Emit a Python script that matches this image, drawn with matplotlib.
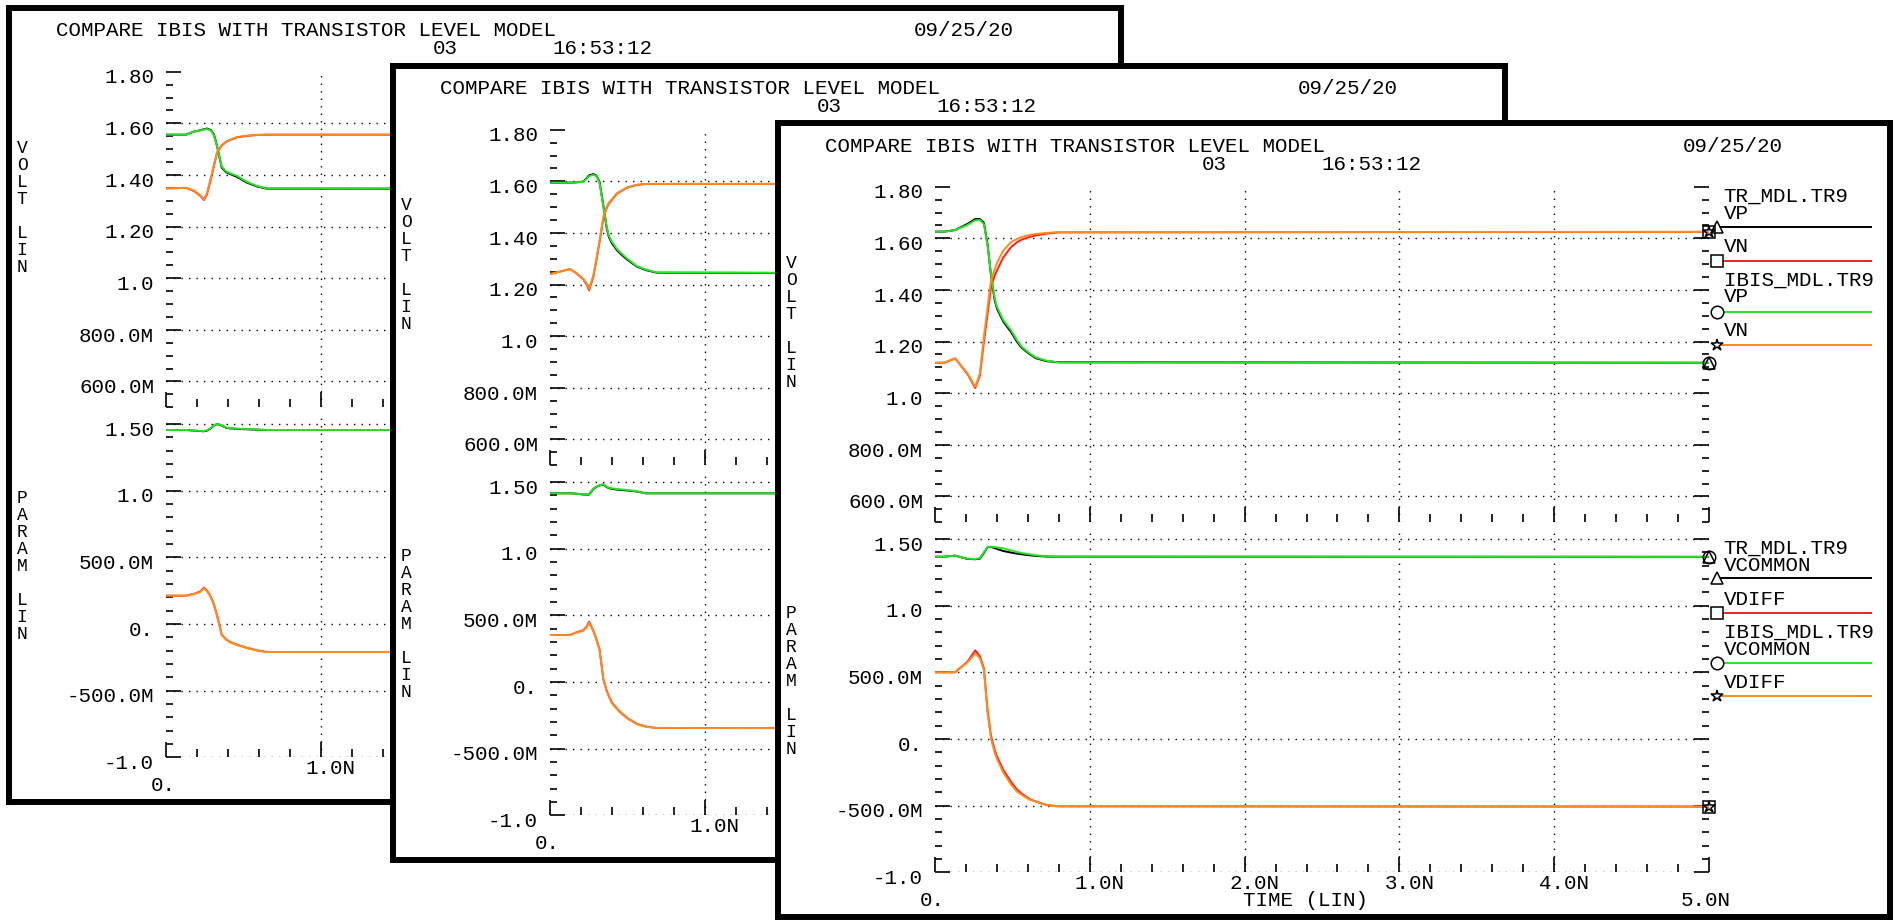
import matplotlib.pyplot as plt
from matplotlib.ticker import MultipleLocator
from matplotlib.transforms import ScaledTranslation

plt.rcParams['font.family'] = ['Liberation Mono', 'DejaVu Sans Mono']

W, H = 1894, 921
FS = 15

# ---- values read off the three HSPICE windows (time in ns, volts) ----
# window 1 (back)
t_1 = [0, 0.13, 0.18, 0.22, 0.245, 0.265, 0.29, 0.31, 0.33, 0.36, 0.39, 0.42, 0.46, 0.52, 0.59, 0.65, 5.0]
vp_tr_1 = [1.556, 1.556, 1.568, 1.573, 1.577, 1.580, 1.574, 1.556, 1.512, 1.428, 1.410, 1.402, 1.392, 1.371, 1.355, 1.347, 1.346]
vn_tr_1 = [1.348, 1.350, 1.338, 1.320, 1.303, 1.325, 1.385, 1.436, 1.487, 1.514, 1.529, 1.537, 1.546, 1.551, 1.555, 1.556, 1.556]
vp_ibis_1 = [1.556, 1.556, 1.568, 1.572, 1.576, 1.578, 1.572, 1.553, 1.510, 1.432, 1.413, 1.405, 1.396, 1.374, 1.357, 1.348, 1.346]
vn_ibis_1 = [1.348, 1.350, 1.340, 1.322, 1.306, 1.330, 1.390, 1.440, 1.490, 1.516, 1.530, 1.538, 1.547, 1.552, 1.555, 1.556, 1.556]
vcom_tr_1 = [1.455, 1.455, 1.450, 1.447, 1.445, 1.450, 1.468, 1.489, 1.499, 1.488, 1.470, 1.466, 1.463, 1.460, 1.457, 1.455, 1.455]
vdiff_tr_1 = [0.212, 0.212, 0.226, 0.243, 0.272, 0.250, 0.205, 0.145, 0.065, -0.080, -0.118, -0.138, -0.156, -0.178, -0.199, -0.210, -0.210]
vcom_ibis_1 = [1.455, 1.455, 1.450, 1.448, 1.447, 1.452, 1.470, 1.490, 1.500, 1.490, 1.472, 1.468, 1.465, 1.462, 1.458, 1.455, 1.455]
vdiff_ibis_1 = [0.212, 0.212, 0.225, 0.240, 0.267, 0.245, 0.200, 0.140, 0.060, -0.083, -0.120, -0.140, -0.158, -0.180, -0.200, -0.210, -0.210]

# window 2 (middle)
t_2 = [0, 0.13, 0.17, 0.215, 0.237, 0.252, 0.28, 0.30, 0.32, 0.345, 0.366, 0.38, 0.40, 0.43, 0.45, 0.50, 0.56, 0.62, 0.69, 5.0]
vp_tr_2 = [1.595, 1.595, 1.596, 1.599, 1.612, 1.623, 1.628, 1.622, 1.598, 1.505, 1.420, 1.385, 1.360, 1.335, 1.322, 1.296, 1.270, 1.256, 1.246, 1.241]
vn_tr_2 = [1.241, 1.260, 1.244, 1.220, 1.200, 1.178, 1.230, 1.295, 1.365, 1.458, 1.497, 1.514, 1.528, 1.551, 1.559, 1.576, 1.586, 1.590, 1.590, 1.590]
vp_ibis_2 = [1.595, 1.595, 1.596, 1.598, 1.610, 1.620, 1.625, 1.620, 1.595, 1.502, 1.424, 1.390, 1.366, 1.340, 1.327, 1.300, 1.272, 1.258, 1.247, 1.241]
vn_ibis_2 = [1.241, 1.260, 1.245, 1.222, 1.205, 1.183, 1.236, 1.300, 1.370, 1.463, 1.500, 1.517, 1.530, 1.553, 1.560, 1.577, 1.586, 1.590, 1.590, 1.590]
vcom_tr_2 = [1.415, 1.415, 1.412, 1.406, 1.405, 1.405, 1.447, 1.463, 1.474, 1.481, 1.462, 1.454, 1.448, 1.443, 1.441, 1.436, 1.428, 1.415, 1.415, 1.415]
vdiff_tr_2 = [0.352, 0.352, 0.372, 0.388, 0.415, 0.452, 0.385, 0.320, 0.245, 0.020, -0.065, -0.105, -0.155, -0.196, -0.222, -0.272, -0.314, -0.335, -0.345, -0.350]
vcom_ibis_2 = [1.415, 1.415, 1.412, 1.407, 1.407, 1.407, 1.450, 1.465, 1.475, 1.482, 1.465, 1.457, 1.452, 1.447, 1.445, 1.440, 1.430, 1.415, 1.415, 1.415]
vdiff_ibis_2 = [0.352, 0.352, 0.370, 0.385, 0.410, 0.445, 0.380, 0.315, 0.240, 0.015, -0.070, -0.110, -0.160, -0.200, -0.225, -0.275, -0.316, -0.336, -0.345, -0.350]

# window 3 (front)
t_3 = [0, 0.06, 0.13, 0.21, 0.26, 0.29, 0.316, 0.34, 0.362, 0.385, 0.40, 0.44, 0.49, 0.53, 0.56, 0.61, 0.65, 0.72, 0.80, 5.0]
vp_tr_3 = [1.626, 1.626, 1.632, 1.656, 1.675, 1.675, 1.660, 1.575, 1.455, 1.362, 1.328, 1.278, 1.238, 1.199, 1.176, 1.152, 1.136, 1.124, 1.120, 1.118]
vn_tr_3 = [1.118, 1.118, 1.135, 1.074, 1.020, 1.070, 1.200, 1.310, 1.410, 1.455, 1.475, 1.525, 1.565, 1.585, 1.595, 1.605, 1.611, 1.618, 1.623, 1.625]
vp_ibis_3 = [1.626, 1.626, 1.632, 1.652, 1.670, 1.671, 1.655, 1.570, 1.460, 1.370, 1.335, 1.284, 1.245, 1.205, 1.180, 1.155, 1.139, 1.126, 1.119, 1.118]
vn_ibis_3 = [1.118, 1.118, 1.135, 1.077, 1.025, 1.077, 1.219, 1.335, 1.439, 1.480, 1.505, 1.552, 1.585, 1.598, 1.605, 1.613, 1.617, 1.621, 1.624, 1.625]
vcom_tr_3 = [1.367, 1.367, 1.375, 1.350, 1.348, 1.352, 1.395, 1.438, 1.440, 1.432, 1.425, 1.410, 1.398, 1.390, 1.385, 1.378, 1.373, 1.368, 1.367, 1.366]
vdiff_tr_3 = [0.500, 0.500, 0.500, 0.580, 0.665, 0.620, 0.530, 0.210, 0.020, -0.080, -0.130, -0.230, -0.320, -0.380, -0.410, -0.450, -0.468, -0.495, -0.505, -0.507]
vcom_ibis_3 = [1.367, 1.367, 1.375, 1.352, 1.350, 1.356, 1.400, 1.440, 1.442, 1.440, 1.437, 1.430, 1.415, 1.402, 1.395, 1.385, 1.378, 1.370, 1.367, 1.366]
vdiff_ibis_3 = [0.500, 0.500, 0.500, 0.575, 0.642, 0.605, 0.517, 0.190, 0.000, -0.100, -0.150, -0.250, -0.340, -0.395, -0.420, -0.455, -0.470, -0.497, -0.505, -0.507]

# axis ticks
volt_ticks = [0.6, 0.8, 1.0, 1.2, 1.4, 1.6, 1.8]
volt_labels = ['600.0M', '800.0M', '1.0', '1.20', '1.40', '1.60', '1.80']
param_ticks = [-1.0, -0.5, 0.0, 0.5, 1.0, 1.5]
param_labels = ['-1.0', '-500.0M', '0.', '500.0M', '1.0', '1.50']
time_ticks = [1, 2, 3, 4]
time_labels = ['1.0N', '2.0N', '3.0N', '4.0N']

GREEN = '#22e622'
ORANGE = '#ff8c1e'
RED = '#ff1c1c'
BLACK = '#000000'

# window layout (pixels, relative to the window's top-left corner)
WIN_W, WIN_H = 1118, 800
AX_L, AX_R = 160, 934
UP_T, UP_B = 66.7, 402.3
LO_T, LO_B = 412.3, 752.3
DOT = (0, (1, 4.4))

fig = plt.figure(figsize=(W / 100, H / 100), dpi=100)
label_shift = ScaledTranslation(0, -3 / 72, fig.dpi_scale_trans)


def rect(x0, y0, l, t, w, h):
    return [(x0 + l) / W, 1 - (y0 + t + h) / H, w / W, h / H]


def style(ax, ylim, ticks, labels, minor, grid_ys):
    ax.set_facecolor('none')
    for s in ax.spines.values():
        s.set_visible(False)
    ax.set_xlim(0, 5)
    ax.set_ylim(*ylim)
    ax.set_xticks([0, 1, 2, 3, 4, 5])
    ax.xaxis.set_minor_locator(MultipleLocator(0.2))
    ax.tick_params(axis='x', which='both', direction='in', labelbottom=False, width=1.2)
    ax.tick_params(axis='x', which='major', length=10.5)
    ax.tick_params(axis='x', which='minor', length=6)
    ax.set_yticks(ticks, labels)
    ax.yaxis.set_minor_locator(MultipleLocator(minor))
    ax.tick_params(axis='y', which='both', direction='in', left=True, right=True,
                   width=1.2, labelsize=FS, pad=8.6)
    ax.tick_params(axis='y', which='major', length=10.5)
    ax.tick_params(axis='y', which='minor', length=5.2)
    for lbl in ax.get_yticklabels():
        lbl.set_transform(lbl.get_transform() + label_shift)
    for y in grid_ys:
        ax.axhline(y, color='k', lw=1, ls=DOT, zorder=1)
    for x in time_ticks:
        ax.axvline(x, color='k', lw=1, ls=DOT, zorder=1)


def curves(ax, t, series):
    for vals, color, mk in series:
        ax.plot(t, vals, color=color, lw=1.4, zorder=3)
        ax.plot(t[-1], vals[-1], marker=mk, ms=9, mfc='none', mec='k', mew=1.1,
                clip_on=False, zorder=4)


def window(x0, y0, z, t, up_series, lo_series):
    fa = fig.add_axes(rect(x0, y0, 3, 3, WIN_W - 6, WIN_H - 6), zorder=z)
    fa.set_xlim(3, WIN_W - 3)
    fa.set_ylim(WIN_H - 3, 3)
    fa.set_xticks([])
    fa.set_yticks([])
    fa.set_facecolor('white')
    for s in fa.spines.values():
        s.set_linewidth(4.3)

    # header
    fa.text(50, 26, 'COMPARE IBIS WITH TRANSISTOR LEVEL MODEL', fontsize=FS, va='center')
    fa.text(427, 44, '03', fontsize=FS, va='center')
    fa.text(546, 44, '16:53:12', fontsize=FS, va='center')
    fa.text(908, 26, '09/25/20', fontsize=FS, va='center')

    # stacked axis titles
    fa.text(16, 202.5, '\n'.join('VOLT LIN'), fontsize=13, ha='center', va='center', linespacing=1.0)
    fa.text(16, 561.7, '\n'.join('PARAM LIN'), fontsize=13, ha='center', va='center', linespacing=1.0)

    # time labels
    px_ns = (AX_R - AX_L) / 5
    for v, lab in zip(time_ticks, time_labels):
        fa.text(AX_L + v * px_ns + 10, 763.3, lab, fontsize=FS, ha='center', va='center')
    fa.text(AX_L - 3, 780, '0.', fontsize=FS, ha='center', va='center')
    fa.text(AX_R - 3, 780, '5.0N', fontsize=FS, ha='center', va='center')
    fa.text(468, 780, 'TIME (LIN)', fontsize=FS, va='center')

    # legends
    lx = 948.6
    for txt, y in [('TR_MDL.TR9', 76.7), ('VP', 93.3), ('VN', 126.7),
                   ('IBIS_MDL.TR9', 160), ('VP', 176.7), ('VN', 210),
                   ('TR_MDL.TR9', 428.3), ('VCOMMON', 445), ('VDIFF', 479),
                   ('IBIS_MDL.TR9', 512.3), ('VCOMMON', 529), ('VDIFF', 562.7)]:
        fa.text(lx, y, txt, fontsize=FS, va='center')
    for y, c, mk in [(107.3, BLACK, '^'), (140.7, RED, 's'), (192, GREEN, 'o'), (225.3, ORANGE, '*'),
                     (458.3, BLACK, '^'), (492.7, RED, 's'), (542.7, GREEN, 'o'), (576, ORANGE, '*')]:
        fa.plot([942, 1096], [y, y], color=c, lw=1.4)
        fa.plot([942], [y], marker=mk, ms=9, mfc='white', mec='k', mew=1.1)

    up = fig.add_axes(rect(x0, y0, AX_L, UP_T, AX_R - AX_L, UP_B - UP_T), zorder=z + 1)
    style(up, (0.5, 1.8), volt_ticks, volt_labels, 0.05, volt_ticks[:-1])
    curves(up, t, up_series)

    lo = fig.add_axes(rect(x0, y0, AX_L, LO_T, AX_R - AX_L, LO_B - LO_T), zorder=z + 2)
    style(lo, (-1.0, 1.55), param_ticks, param_labels, 0.1, param_ticks)
    curves(lo, t, lo_series)


window(6, 5, 1, t_1,
       [(vp_tr_1, BLACK, '^'), (vn_tr_1, RED, 's'), (vp_ibis_1, GREEN, 'o'), (vn_ibis_1, ORANGE, '*')],
       [(vcom_tr_1, BLACK, '^'), (vdiff_tr_1, RED, 's'), (vcom_ibis_1, GREEN, 'o'), (vdiff_ibis_1, ORANGE, '*')])
window(390, 63, 4, t_2,
       [(vp_tr_2, BLACK, '^'), (vn_tr_2, RED, 's'), (vp_ibis_2, GREEN, 'o'), (vn_ibis_2, ORANGE, '*')],
       [(vcom_tr_2, BLACK, '^'), (vdiff_tr_2, RED, 's'), (vcom_ibis_2, GREEN, 'o'), (vdiff_ibis_2, ORANGE, '*')])
window(775, 120, 7, t_3,
       [(vp_tr_3, BLACK, '^'), (vn_tr_3, RED, 's'), (vp_ibis_3, GREEN, 'o'), (vn_ibis_3, ORANGE, '*')],
       [(vcom_tr_3, BLACK, '^'), (vdiff_tr_3, RED, 's'), (vcom_ibis_3, GREEN, 'o'), (vdiff_ibis_3, ORANGE, '*')])

fig.savefig('out.png', dpi=100)
